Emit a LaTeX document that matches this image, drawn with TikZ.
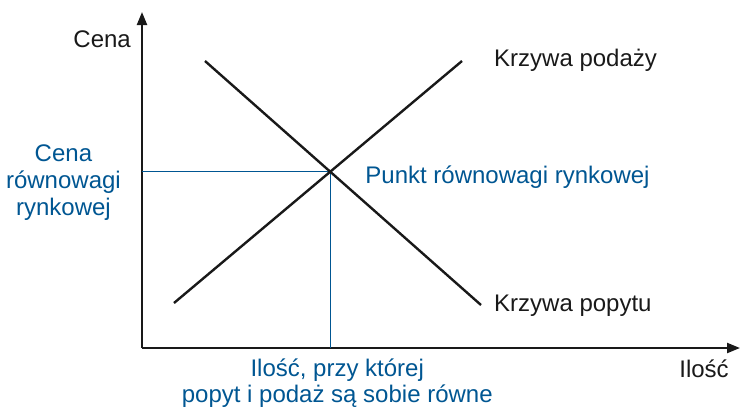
\documentclass[tikz,border=0pt]{standalone}
\usepackage{fontspec}
\setmainfont{Liberation Sans}
\usepackage{tikz}
\usetikzlibrary{arrows.meta, positioning, calc}
\definecolor{eqblue}{RGB}{0,86,146}

\begin{document}
\begin{tikzpicture}[
    x=1pt, y=-1pt,
    axis/.style={line width=2.2pt, draw=black!90, -{Triangle[length=13pt, width=10pt]}},
    curve/.style={line width=2.4pt, draw=black!90},
    guide/.style={line width=1.5pt, draw=eqblue},
    lbl/.style={inner sep=0pt, font=\fontsize{24}{27}\selectfont, text=#1, align=center},
    lbl/.default=black!90
]
    \useasboundingbox (0,0) rectangle (740,408);

    % Axes
    \coordinate (origin) at (142, 348);
    \coordinate (yTop) at (142, 12);
    \coordinate (xEnd) at (740, 348);
    \draw[axis] (origin) -- (yTop);
    \draw[axis] (origin) -- (xEnd);

    % Supply and demand
    \coordinate (sLow) at (174, 303);
    \coordinate (sHigh) at (462, 61);
    \coordinate (dHigh) at (205, 61);
    \coordinate (dLow) at (481, 305);
    \coordinate (eq) at (intersection of sLow--sHigh and dHigh--dLow);
    \coordinate (eqY) at (eq -| origin);
    \coordinate (eqX) at (eq |- origin);

    \draw[guide] (eqY) -- (eq) -- (eqX);
    \draw[curve] (sLow) -- (sHigh);
    \draw[curve] (dHigh) -- (dLow);

    % Axis labels
    \node[lbl, left=11pt of yTop, yshift=-27pt] (cena) {Cena};
    \node[lbl] (ilosc) at (704, 369) {Ilość};

    % Curve labels
    \node[lbl, right=32pt of sHigh, yshift=1pt] (supply) {Krzywa podaży};
    \node[lbl, right=13pt of dLow, yshift=-1pt] (demand) {Krzywa popytu};

    % Equilibrium labels
    \node[lbl=eqblue, right=35pt of eq, yshift=-5pt] (eqPoint) {Punkt równowagi rynkowej};
    \node[lbl=eqblue, left=21pt of eqY, yshift=-11pt] (eqPrice) {Cena\\równowagi\\rynkowej};
    \node[lbl=eqblue, below=11pt of eqX, xshift=7pt, font=\fontsize{24}{26}\selectfont] (eqQty) {Ilość, przy której\\popyt i podaż są sobie równe};
\end{tikzpicture}
\end{document}
